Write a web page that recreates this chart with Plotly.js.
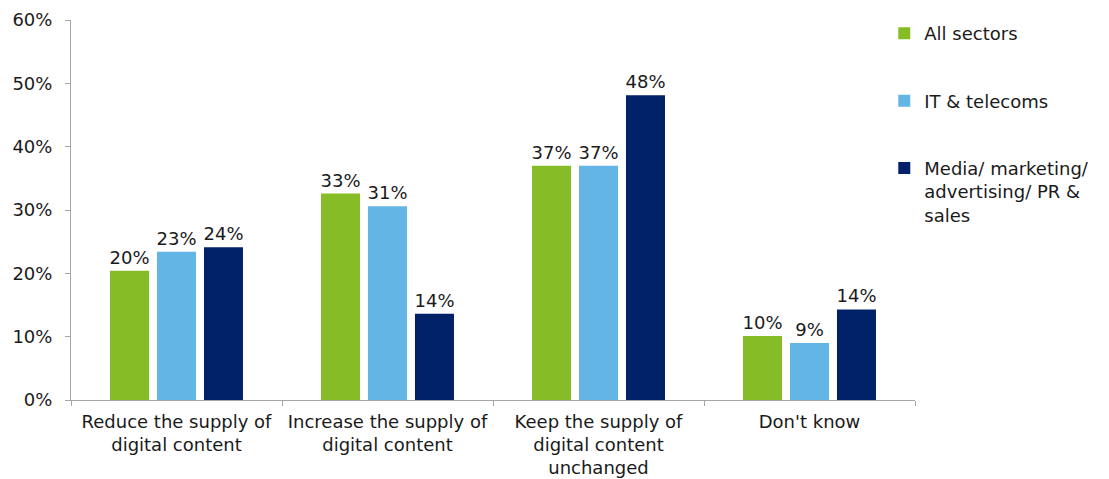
<!DOCTYPE html>
<html>
<head>
<meta charset="utf-8">
<script src="https://cdn.plot.ly/plotly-3.0.1.min.js"></script>
<style>html,body{margin:0;padding:0;background:#fff;}#chart{width:1109px;height:479px;}</style>
</head>
<body>
<div id="chart"></div>
<script>
const categories = [
  "Reduce the supply of<br>digital content",
  "Increase the supply of<br>digital content",
  "Keep the supply of<br>digital content<br>unchanged",
  "Don't know"
];
const seriesNames = ["All sectors", "IT & telecoms", "Media/ marketing/<br>advertising/ PR &<br>sales"];
const allSectors = [20.4, 32.6, 37.0, 10.1];
const itTelecoms = [23.4, 30.6, 37.0, 9.0];
const mediaMarketing = [24.1, 13.6, 48.1, 14.3];
const colors = ["#86BC25", "#62B5E5", "#012169"];
const yTickVals = [0, 10, 20, 30, 40, 50, 60];
const yTickText = ["0%", "10%", "20%", "30%", "40%", "50%", "60%"];

const font = "DejaVu Sans, Verdana, sans-serif";
const series = [allSectors, itTelecoms, mediaMarketing];
const traces = series.map((vals, i) => ({
  type: "bar",
  x: categories,
  y: vals,
  name: seriesNames[i],
  legendgroup: "g" + i,
  marker: {color: colors[i]},
  text: vals.map(v => Math.round(v) + "%"),
  textposition: "outside",
  textfont: {family: font, size: 18, color: "#1a1a1a"},
  constraintext: "none",
  cliponaxis: false,
  hoverinfo: "x+y"
}));

const layout = {
  width: 1109,
  height: 479,
  margin: {l: 71, r: 194, t: 20, b: 79},
  paper_bgcolor: "#fff",
  plot_bgcolor: "#fff",
  font: {family: font, size: 18, color: "#1a1a1a"},
  barmode: "group",
  bargap: 0.332,
  bargroupgap: 0.17,
  showlegend: true,
  legend: {
    x: 0.9636, xanchor: "left", y: 1.013, yanchor: "top",
    traceorder: "grouped", tracegroupgap: 41, valign: "top",
    font: {family: font, size: 18, color: "#1a1a1a"},
    itemwidth: 30
  },
  xaxis: {
    type: "category",
    showline: true, linecolor: "#A6A6A6", linewidth: 1,
    ticks: "outside", tickson: "boundaries", ticklen: 5, tickcolor: "#A6A6A6",
    ticklabelstandoff: 5,
    showgrid: false, zeroline: false,
    tickfont: {family: font, size: 18, color: "#1a1a1a"}
  },
  yaxis: {
    range: [0, 60],
    tickvals: yTickVals, ticktext: yTickText,
    showline: true, linecolor: "#A6A6A6", linewidth: 1,
    ticks: "outside", ticklen: 5, tickcolor: "#A6A6A6",
    ticklabelstandoff: 9,
    showgrid: false, zeroline: false,
    tickfont: {family: font, size: 18, color: "#1a1a1a"}
  }
};

Plotly.newPlot("chart", traces, layout, {displayModeBar: false, staticPlot: true});
</script>
</body>
</html>
